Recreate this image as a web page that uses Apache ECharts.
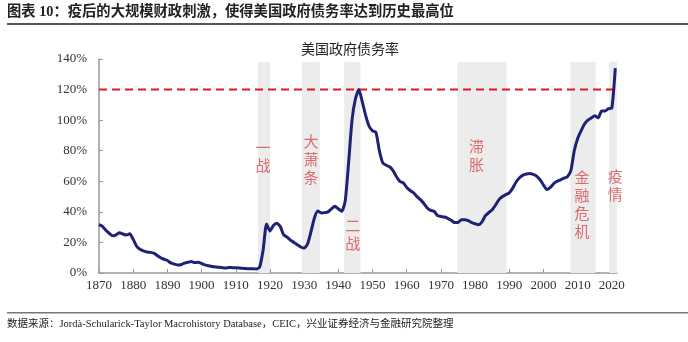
<!DOCTYPE html>
<html>
<head>
<meta charset="utf-8">
<script src="https://cdn.jsdelivr.net/npm/echarts@6/dist/echarts.min.js"></script>
<style>
  html, body { margin: 0; padding: 0; background: #fff; }
  #chart { width: 688px; height: 342px; }
</style>
</head>
<body>
<div id="chart"></div>
<script>
// US government debt as a share of GDP, %, 1870-2021
const years = [];
for (let y = 1870; y <= 2021; y++) years.push(y);

const debtRatio = [
  31.6, 30.5, 28.0, 26.0, 24.3, 25.0, 26.3, 25.5, 24.8, 25.6, // 1870s
  22.0, 17.5, 15.5, 14.5, 13.7, 13.5, 13.0, 11.5, 10.0, 9.0,  // 1880s
  8.2, 6.6, 5.8, 5.3, 5.4, 6.5, 7.0, 7.5, 6.8, 7.0,           // 1890s
  6.2, 5.3, 4.7, 4.3, 4.0, 3.7, 3.5, 3.3, 3.6, 3.5,           // 1900s
  3.4, 3.3, 3.1, 2.9, 2.7, 2.8, 2.6, 4.0, 15.0, 32.0,         // 1910s
  27.5, 31.0, 32.5, 30.5, 25.0, 23.5, 21.5, 20.0, 18.5, 17.0, // 1920s
  16.3, 19.0, 27.0, 36.0, 40.5, 39.3, 39.5, 40.0, 42.0, 43.6, // 1930s
  42.0, 40.4, 47.0, 72.0, 100.0, 114.0, 120.0, 112.0, 103.0, 96.0, // 1940s
  93.0, 92.0, 80.0, 72.0, 70.5, 69.5, 67.0, 63.0, 60.0, 59.0, // 1950s
  56.0, 54.0, 52.5, 50.0, 48.0, 45.5, 42.5, 41.0, 40.4, 37.5, // 1960s
  37.0, 36.6, 35.8, 34.5, 33.0, 33.0, 34.9, 34.8, 34.2, 33.0, // 1970s
  32.2, 31.6, 33.5, 37.5, 39.5, 41.4, 44.5, 48.0, 50.0, 51.3, // 1980s
  52.4, 55.5, 59.5, 62.3, 64.0, 64.8, 65.1, 64.5, 63.4, 61.0, // 1990s
  57.5, 54.6, 56.0, 58.5, 60.0, 61.0, 62.0, 63.0, 67.0, 80.0, // 2000s
  88.0, 93.0, 97.5, 100.0, 101.5, 102.8, 101.5, 106.0, 106.0, 107.5, // 2010s
  108.0, 134.0                                                // 2020-2021
];

const xTicks = [1870, 1880, 1890, 1900, 1910, 1920, 1930, 1940, 1950, 1960, 1970, 1980, 1990, 2000, 2010, 2020];
const yTicks = [0, 20, 40, 60, 80, 100, 120, 140];

// shaded episodes: [start year, end year]
const episodes = [[1916.5, 1920], [1929.3, 1934.6], [1941.7, 1946.5], [1974.8, 1989.2], [2007.9, 2015.2], [2019.2, 2023.1]];
const episodeNames = ['一\n战', '大\n萧\n条', '二\n战', '滞\n胀', '金\n融\n危\n机', '疫\n情'];
// where each episode name sits, in [year, %]
const episodeAnchors = [[1918, 75], [1932, 73], [1944.2, 24], [1980.4, 76], [2011.3, 44], [2021, 56]];

// previous record level, drawn as a dashed reference line
const recordLevel = 120;
const recordSpan = [1870, 2023.6];

const serif = "'Liberation Serif', 'Noto Sans CJK SC', serif";

const chart = echarts.init(document.getElementById('chart'), null, { renderer: 'canvas' });

chart.setOption({
  animation: false,
  backgroundColor: '#fff',
  title: {
    text: '美国政府债务率',
    left: 345,
    top: 38,
    textAlign: 'center',
    textStyle: { fontFamily: serif, fontSize: 14, fontWeight: 'normal', color: '#222' }
  },
  graphic: [
    {
      type: 'text', left: 7, top: 5,
      style: {
        text: '图表 10：疫后的大规模财政刺激，使得美国政府债务率达到历史最高位',
        font: "bold 14.3px 'Liberation Serif', 'Noto Sans CJK SC', serif",
        fill: '#222'
      }
    },
    {
      type: 'rect', shape: { x: 7, y: 23, width: 681, height: 2 },
      style: { fill: '#555' }
    },
    {
      type: 'rect', shape: { x: 7, y: 312, width: 681, height: 1.5 },
      style: { fill: '#777' }
    },
    {
      type: 'text', left: 7, top: 319,
      style: {
        text: '数据来源：Jordà-Schularick-Taylor Macrohistory Database，CEIC，兴业证券经济与金融研究院整理',
        font: "10.5px 'Liberation Serif', 'Noto Sans CJK SC', serif",
        fill: '#222'
      }
    }
  ],
  grid: { left: 99, right: 71, top: 59, bottom: 69 },
  xAxis: {
    type: 'value',
    min: 1870,
    max: 2021.5,
    splitLine: { show: false },
    axisLine: { lineStyle: { color: '#999', width: 1.5 } },
    axisTick: { inside: true, length: 4, customValues: xTicks, lineStyle: { color: '#999' } },
    axisLabel: {
      customValues: xTicks,
      margin: 6,
      formatter: v => String(v),
      fontFamily: serif, fontSize: 13, color: '#333'
    }
  },
  yAxis: {
    type: 'value',
    min: 0,
    max: 140,
    interval: 20,
    splitLine: { show: false },
    axisLine: { show: true, lineStyle: { color: '#999', width: 1.5 } },
    axisTick: { show: true, inside: true, length: 4, lineStyle: { color: '#999' } },
    axisLabel: {
      margin: 12,
      formatter: v => yTicks.includes(v) ? v + '%' : '',
      fontFamily: serif, fontSize: 13, color: '#333'
    }
  },
  series: [
    {
      name: 'shading',
      type: 'line',
      data: [],
      clip: false,
      silent: true,
      z: 1,
      markArea: {
        silent: true,
        itemStyle: { color: '#ececec' },
        data: episodes.map(([s, e]) => [{ xAxis: s, yAxis: 0 }, { xAxis: e, yAxis: 138 }])
      }
    },
    {
      name: 'record',
      type: 'line',
      data: recordSpan.map(y => [y, recordLevel]),
      showSymbol: false,
      clip: false,
      silent: true,
      z: 4,
      lineStyle: { color: '#e5161c', width: 2, type: [8, 5] }
    },
    {
      name: '美国政府债务率',
      type: 'line',
      data: years.map((y, i) => [y, debtRatio[i]]),
      showSymbol: false,
      smooth: 0.2,
      clip: false,
      z: 5,
      lineStyle: { color: '#1f2175', width: 3 }
    },
    {
      name: 'episodes',
      type: 'scatter',
      symbolSize: 0,
      silent: true,
      z: 6,
      data: episodeAnchors.map((p, i) => ({ value: p, name: episodeNames[i] })),
      label: {
        show: true,
        position: 'inside',
        formatter: p => p.name,
        fontFamily: serif,
        fontSize: 15,
        lineHeight: 18,
        color: '#d9484b',
        align: 'center',
        verticalAlign: 'middle'
      }
    }
  ]
});
</script>
</body>
</html>
